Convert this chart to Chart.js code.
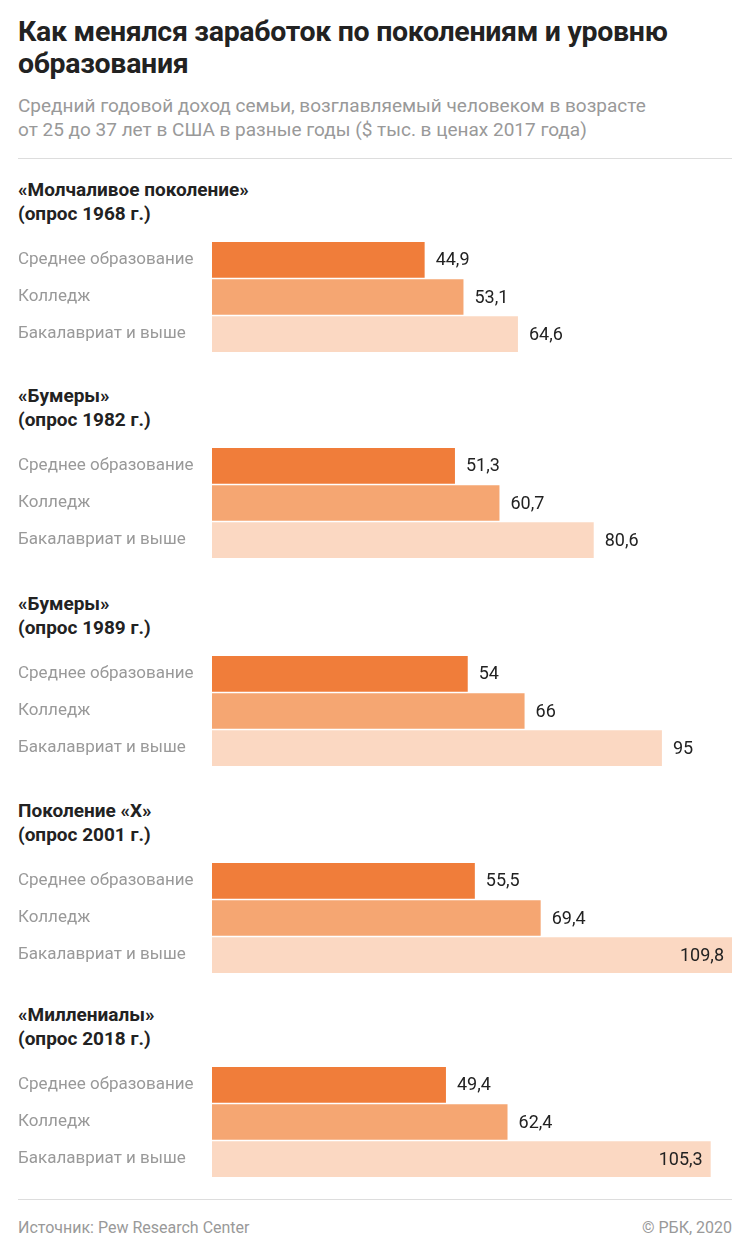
<!DOCTYPE html><html><head><meta charset="utf-8">
<script src="https://cdn.jsdelivr.net/npm/chart.js@4"></script>
<style>
body{margin:0;width:750px;height:1260px;background:#fff;font-family:Roboto,sans-serif;position:relative;overflow:hidden}
.t{position:absolute;left:18px;top:16px;font-size:28.5px;font-weight:700;line-height:32px;color:#222;width:720px;letter-spacing:-0.3px}
.s{position:absolute;left:18px;top:94px;font-size:19px;line-height:24px;color:#999;width:640px}
.hr{position:absolute;left:18px;right:18px;height:1px;background:#ddd}
.h{position:absolute;left:18px;font-size:19px;font-weight:700;line-height:24px;color:#222}
.c{position:absolute;left:0;width:750px;height:132px}
.f{position:absolute;top:1218px;font-size:16px;color:#999}
</style></head><body>
<div class="t">Как менялся заработок по поколениям и уровню образования</div>
<div class="s">Средний годовой доход семьи, возглавляемый человеком в возрасте от 25 до 37 лет в США в разные годы ($ тыс. в ценах 2017 года)</div>
<div class="hr" style="top:158px"></div>
<div class="hr" style="top:1199px"></div>
<div class="f" style="left:18px">Источник: Pew Research Center</div>
<div class="f" style="right:18px">© РБК, 2020</div>
<div id="root"></div>
<script>
const groups=["«Молчаливое поколение»\n(опрос 1968 г.)","«Бумеры»\n(опрос 1982 г.)","«Бумеры»\n(опрос 1989 г.)","Поколение «X»\n(опрос 2001 г.)","«Миллениалы»\n(опрос 2018 г.)"];
const categories=["Среднее образование","Колледж","Бакалавриат и выше"];
const values=[[44.9,53.1,64.6],[51.3,60.7,80.6],[54,66,95],[55.5,69.4,109.8],[49.4,62.4,105.3]];
const colors=["#f07d3a","#f5a672","#fbd8c2"];
const barTops=[242,448,656,863,1067];
const root=document.getElementById('root');
const valPlugin={id:'v',afterDatasetsDraw(ch){const c=ch.ctx;const m=ch.getDatasetMeta(0);c.save();c.font='18px Roboto';c.textBaseline='middle';
m.data.forEach((b,i)=>{const v=ch.data.datasets[0].data[i];const s=String(v).replace('.',',');c.fillStyle='#222';
if(v>100){c.textAlign='right';c.fillText(s,b.x-8,b.y+1);}else{c.textAlign='left';c.fillText(s,b.x+11,b.y+1);}});c.restore();}};
groups.forEach((g,k)=>{
 const h=document.createElement('div');h.className='h';h.style.top=(barTops[k]-64)+'px';h.innerHTML=g.replace('\n','<br>');root.appendChild(h);
 const d=document.createElement('div');d.className='c';d.style.top=(barTops[k]-11)+'px';const cv=document.createElement('canvas');cv.width=750;cv.height=132;cv.style.width='750px';cv.style.height='132px';d.appendChild(cv);root.appendChild(d);
 new Chart(cv,{type:'bar',data:{labels:categories,datasets:[{data:values[k],backgroundColor:colors,barPercentage:0.96,categoryPercentage:1}]},
 options:{indexAxis:'y',responsive:false,animation:false,layout:{padding:{left:18,right:18,top:0,bottom:0}},
 plugins:{legend:{display:false},tooltip:{enabled:false}},
 scales:{x:{display:false,min:0,max:109.8},y:{grid:{display:false},border:{display:false},afterFit(s){s.width=194;},
 ticks:{crossAlign:'far',color:'#999',font:{family:'Roboto',size:17},padding:0}}}},plugins:[valPlugin]});
});
</script></body></html>
